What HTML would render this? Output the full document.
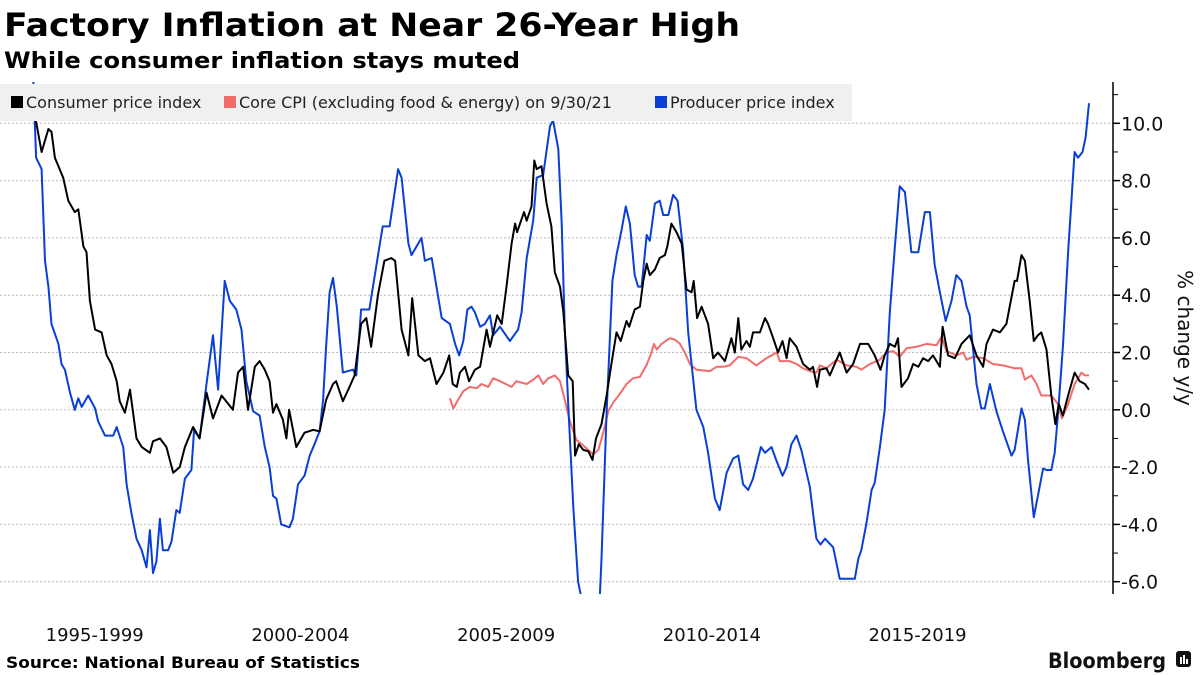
<!DOCTYPE html>
<html><head><meta charset="utf-8"><style>
html,body{margin:0;padding:0;background:#fff;}
svg{display:block;}
text{font-family:"DejaVu Sans","Liberation Sans",sans-serif;}
</style></head><body>
<svg id="chart" width="1200" height="675" viewBox="0 0 1200 675" xmlns="http://www.w3.org/2000/svg">
<text x="4" y="36" font-size="32" font-weight="bold" textLength="736" lengthAdjust="spacingAndGlyphs">Factory Inflation at Near 26-Year High</text>
<text x="4" y="68" font-size="22" font-weight="bold" textLength="516" lengthAdjust="spacingAndGlyphs">While consumer inflation stays muted</text>
<g id="grid"></g>
<g id="axis"></g>
<defs><clipPath id="clip"><rect x="0" y="82" width="1113" height="512"/></clipPath></defs>
<g id="series" clip-path="url(#clip)"></g>
<g>
<rect x="0" y="84" width="852" height="37" fill="#f0f0f0"/>
<g><rect x="11" y="96" width="12" height="12" fill="#000"/><text x="26" y="108" font-size="16" fill="#222">Consumer price index</text></g>
<g><rect x="224" y="96" width="12" height="12" fill="#f26c6c"/><text x="239" y="108" font-size="16" fill="#222">Core CPI (excluding food &amp; energy) on 9/30/21</text></g>
<g><rect x="655" y="96" width="12" height="12" fill="#0a3fd6"/><text x="670" y="108" font-size="16" fill="#222">Producer price index</text></g>
</g>
<g id="xlabels"></g>
<text transform="translate(1178,338) rotate(90)" text-anchor="middle" font-size="20" fill="#111">% change y/y</text>
<text x="6" y="668" font-size="16" font-weight="bold" textLength="354" lengthAdjust="spacingAndGlyphs">Source: National Bureau of Statistics</text>
<text x="1048" y="668" font-size="21" font-weight="bold" fill="#111" textLength="118" lengthAdjust="spacingAndGlyphs">Bloomberg</text>
<g><rect x="1176" y="651" width="15" height="16" rx="3" fill="#111"/><rect x="1180" y="657" width="2" height="7" fill="#fff"/><rect x="1183" y="655" width="2" height="9" fill="#fff"/><rect x="1186" y="659" width="2" height="5" fill="#fff"/></g>
</svg>
<script>
const cpiMonths=[0,1,2.5,4.5,5.4,6.4,8.8,10.3,12.2,13.2,14.7,15.6,16.6,18.1,20,21.5,22.9,24.4,25.3,26.8,28.3,30.2,31.7,34.1,35,37,38.9,40.9,42.8,44.3,46.7,48.6,50.6,52.5,55,58.3,59.8,61.3,62.7,64.7,66.1,67.6,69,70,71,72.9,73.9,74.7,76.8,79.2,81.7,83.6,85.5,87.5,88.4,90.4,92.3,93.8,95.7,97.2,98.6,100.6,102.5,104.5,105.6,107.5,109.5,110.6,112.4,114.3,115.8,117.7,119.7,121.4,122.4,123.6,124.5,126,127.2,128.9,130.4,132.3,133.3,135.4,136.7,138.1,139.6,140.6,141.2,143.2,144,145.4,146.2,146.9,148.3,149.8,151.2,152.2,153.7,154.7,156.1,157.4,158.1,159.2,160.5,162,163.2,164.2,165.8,167.3,168.7,170.2,171.4,173.1,173.9,175.5,177,178,179,179.9,181.4,182.8,184.3,185,186.2,187.7,189.2,190.6,192.1,192.7,193.7,195,196.9,198.4,199.8,201.8,203.7,204.7,205.7,206.6,208.1,209.1,210,212,213.5,214.4,215.9,217.3,218.6,219.8,220.7,222.7,224.6,226.6,227.5,228.7,229.5,231.4,232.4,235.3,237.3,239.2,241.2,243.6,245.5,247.2,248.4,249.9,251.4,252.3,253.3,255.2,256.7,258.2,259.6,261.1,262.5,264.5,265.3,266.9,268.9,270.8,273.2,275.2,277.1,278.1,280,282,283.9,286.3,287,288.3,289.3,290.7,291.9,293.1,294.1,295.6,297,298.2,299.2,300.4,301.9,303.8,305.3,306.8,308];
const cpiValues=[10.3,10.0,9.0,9.8,9.7,8.8,8.1,7.3,6.9,7.0,5.7,5.5,3.8,2.8,2.7,1.9,1.6,1.0,0.3,-0.1,0.7,-1.0,-1.3,-1.5,-1.1,-1.0,-1.3,-2.2,-2.0,-1.3,-0.6,-1.0,0.6,-0.3,0.5,0.0,1.3,1.5,0,1.5,1.7,1.4,1.0,-0.1,0.2,-0.35,-1.0,0,-1.3,-0.8,-0.7,-0.75,0.35,0.9,1.0,0.3,0.8,1.2,3.0,3.2,2.2,4.0,5.2,5.3,5.2,2.8,1.9,3.9,1.9,1.7,1.8,0.9,1.3,1.9,0.9,0.8,1.3,1.5,1.0,1.4,1.5,2.8,2.2,3.3,3.0,4.3,5.8,6.5,6.2,6.9,6.6,7.1,8.7,8.4,8.5,7.2,6.4,4.8,4.3,3.4,1.2,1.0,-1.6,-1.2,-1.4,-1.45,-1.75,-1.0,-0.5,0.5,1.6,2.7,2.4,3.1,2.9,3.5,3.6,4.5,5.1,4.7,4.9,5.3,5.4,5.7,6.5,6.2,5.8,4.2,4.1,4.5,3.2,3.6,3.0,1.8,2.0,1.7,2.5,2.0,3.2,2.1,2.4,2.2,2.7,2.7,3.2,3.0,2.5,2.0,2.4,1.8,2.5,2.2,1.6,1.4,1.5,0.8,1.4,1.45,1.2,2.0,1.3,1.6,2.3,2.3,1.9,1.4,1.9,2.3,2.2,2.5,0.8,1.1,1.6,1.5,1.8,1.7,1.9,1.5,2.9,1.9,1.8,2.3,2.6,1.9,1.5,2.3,2.8,2.7,3.0,4.5,4.5,5.4,5.2,3.8,2.4,2.6,2.7,2.1,0.5,-0.5,0.2,-0.2,0.5,1.3,1.0,0.9,0.7];
const coreMonths=[121.6,122.6,124,125.5,127.4,129.4,130.8,132.8,134.2,136.2,139.6,141,144,145.9,147.4,148.8,150.3,152.2,153.7,155.1,156.6,158.5,161,163.4,164.9,166.3,167.8,169.2,170.2,171.7,173.1,175,177,178.9,180.4,181.1,181.9,183.3,185.7,187.2,188.7,190.1,191.6,193.5,197.4,199.4,201.3,203.2,205.7,208.1,211,213.9,216.9,217.8,220.7,222.7,224.6,226.6,228.5,229.5,231.4,234.4,237.3,240.2,241.6,244.1,247,248.9,250.9,252.8,254.8,257.7,260.6,263.5,265,266.4,269.3,271.3,272.3,274.2,277.1,280,282.9,286.3,288.3,289.3,291.2,292.7,294.1,297,299,300.1,301.9,303.8,305.8,306.8,308];
const coreValues=[0.4,0.05,0.35,0.65,0.8,0.75,0.9,0.8,1.1,1.0,0.8,1.0,0.9,1.05,1.2,0.9,1.1,1.2,1.0,0.35,-0.4,-1.05,-1.3,-1.55,-1.4,-0.8,-0.05,0.25,0.4,0.65,0.9,1.1,1.15,1.55,2.0,2.3,2.1,2.3,2.5,2.45,2.3,2.0,1.6,1.4,1.35,1.5,1.5,1.55,1.85,1.8,1.55,1.8,2.0,1.7,1.7,1.6,1.45,1.35,1.3,1.55,1.45,1.75,1.55,1.5,1.4,1.6,1.75,2.0,2.05,1.85,2.15,2.2,2.3,2.25,2.55,2.05,1.9,2.0,1.75,1.85,1.8,1.6,1.55,1.45,1.45,1.05,1.2,0.9,0.5,0.5,0.2,-0.3,0.2,0.9,1.3,1.2,1.2];
const ppiMonths=[0,0.9,2.5,3.5,4.5,5.4,7.4,8.3,9.3,10.8,12.2,13.2,14.2,16.1,18.1,19,21,23.4,24.4,26.3,27.3,28.7,30.2,31.7,33.1,34.1,35,36,37,37.9,39.4,40.4,41.8,42.8,44.3,46.2,47,48.6,50.6,52.5,54,55.9,57.4,59.3,60.8,62.2,64.2,66.1,67.6,69,70,71,72.4,74.8,75.8,77.3,79.2,80.7,82.1,83.6,84.6,85.5,86.5,87.5,88.6,90.4,93.3,94.3,95.7,98.1,100.1,102,104,106.5,107.5,109.5,110.4,113.3,114.3,116.3,119.2,121.6,123.1,124.3,125.5,126.7,127.9,128.9,130.4,131.8,133.3,134.2,136.2,139.1,141.5,142.5,144,145.9,146.9,148.8,150.8,151.7,153.2,154.2,155.1,156.1,157.6,159,160,165.3,165.8,167.3,169,170.2,171.7,172.9,174.1,175.5,176.5,177.5,179,179.9,181.4,182.8,183.8,185.3,186.7,188,189.6,191.1,193.5,195.5,196.9,198.9,200.3,202.3,204.2,205.7,207.1,208.6,210,212.3,213.5,215.4,216.9,218.6,219.8,221.2,222.7,224.1,226.6,227.5,228.5,229.7,231,233.4,235.3,237.3,239.7,240.7,241.6,243.1,244.6,245.5,247,248.4,249.9,251.4,252.8,254.3,256.2,258.2,260.1,261.6,263,264.5,266.2,267.9,269.3,270.8,272.3,273.2,275.2,276.6,277.6,279.1,281,282.9,285.4,286.3,288.3,289.3,290.2,291.9,293.1,294.6,295.6,297,298,299,300.4,301.9,303.8,304.8,306.1,307,308];
const ppiValues=[11.8,8.8,8.4,5.2,4.3,3.0,2.3,1.6,1.4,0.6,0,0.4,0.1,0.5,0.05,-0.4,-0.9,-0.9,-0.6,-1.3,-2.6,-3.6,-4.5,-4.9,-5.5,-4.2,-5.7,-5.3,-3.8,-4.9,-4.9,-4.6,-3.5,-3.6,-2.4,-2.1,-0.7,-1.0,0.9,2.6,0.7,4.5,3.8,3.5,2.8,1.0,-0.05,-0.2,-1.3,-2.0,-3.0,-3.1,-4.0,-4.1,-3.8,-2.6,-2.3,-1.6,-1.2,-0.75,0.35,2.2,4.1,4.6,3.6,1.3,1.4,1.2,3.5,3.5,5.0,6.4,6.4,8.4,8.1,5.8,5.4,6.0,5.2,5.3,3.2,3.0,2.3,1.9,2.4,3.5,3.6,3.4,2.9,3.0,3.3,2.6,2.9,2.4,2.8,3.4,5.3,6.6,8.1,8.2,9.9,10.1,9.1,6.5,2.8,0.2,-3.4,-6.0,-6.6,-6.6,-5.2,-0.1,4.5,5.4,6.3,7.1,6.5,4.7,4.3,4.3,6.1,5.9,7.2,7.3,6.8,6.8,7.5,7.3,5.6,2.7,0,-0.6,-1.5,-3.1,-3.5,-2.2,-1.7,-1.6,-2.6,-2.8,-2.4,-1.3,-1.5,-1.3,-1.8,-2.3,-2.0,-1.2,-0.9,-1.4,-2.7,-3.6,-4.5,-4.7,-4.5,-4.8,-5.9,-5.9,-5.9,-5.2,-4.9,-3.95,-2.8,-2.55,-1.3,0,3.4,5.7,7.8,7.6,5.5,5.5,6.9,6.9,5.05,4.1,3.1,3.8,4.7,4.5,3.6,3.3,0.9,0.05,0.05,0.9,-0.05,-0.75,-1.6,-1.4,0.05,-0.35,-1.75,-3.75,-3.0,-2.05,-2.1,-2.1,-1.5,-0.1,2.2,5.5,9.0,8.8,9.0,9.5,10.7];
const yTicks=[-6,-4,-2,0,2,4,6,8,10];
const yMinorTicks=[-5,-3,-1,1,3,5,7,9,11];
const xCategories=["1995-1999","2000-2004","2005-2009","2010-2014","2015-2019"];
const xCategoryCenters=[18,78,138,198,258];

const NS="http://www.w3.org/2000/svg";
const X0=33,X1=1089,M1=308,Y0=409.8,PXU=28.65,AX=1113;
const xs=m=>X0+(X1-X0)*m/M1;
const ys=v=>Y0-v*PXU;
function mk(tag,attrs,parent){const e=document.createElementNS(NS,tag);for(const k in attrs)e.setAttribute(k,attrs[k]);parent.appendChild(e);return e;}
const grid=document.getElementById('grid'),axis=document.getElementById('axis');
yTicks.forEach(v=>{
  const g=mk('line',{x1:0,x2:AX,y1:ys(v),y2:ys(v),stroke:'#bbb','stroke-width':1,'stroke-dasharray':'2,2'},grid);
  
  
  const t=mk('line',{x1:AX,x2:AX+7,y1:ys(v),y2:ys(v),stroke:'#000','stroke-width':1.5},axis);
  
  
  const l=mk('text',{x:AX+8,y:ys(v)+7,'font-size':19,fill:'#111'},axis);
  l.textContent=v.toFixed(1);
  
  
});
yMinorTicks.forEach(v=>{
  const t=mk('line',{x1:AX,x2:AX+5,y1:ys(v),y2:ys(v),stroke:'#000','stroke-width':1},axis);
  
  
});
const al=mk('line',{x1:AX,x2:AX,y1:82,y2:594,stroke:'#000','stroke-width':1.5},axis);


const xl=document.getElementById('xlabels');
xCategories.forEach((c,i)=>{
  const t=mk('text',{x:xs(xCategoryCenters[i]),y:641,'font-size':18,'text-anchor':'middle',fill:'#111'},xl);
  t.textContent=c;
  
  
});
const ser=document.getElementById('series');
function line(months,vals,color,name){
  const d=months.map((m,i)=>(i?'L':'M')+xs(m).toFixed(1)+','+ys(vals[i]).toFixed(1)).join('');
  const p=mk('path',{d:d,fill:'none',stroke:color,'stroke-width':2,'stroke-linejoin':'round'},ser);
  
  
}
line(coreMonths,coreValues,'#f26c6c','core-cpi-line');
line(ppiMonths,ppiValues,'#0a3fd6','ppi-line');
line(cpiMonths,cpiValues,'#000','cpi-line');
</script>
</body></html>
